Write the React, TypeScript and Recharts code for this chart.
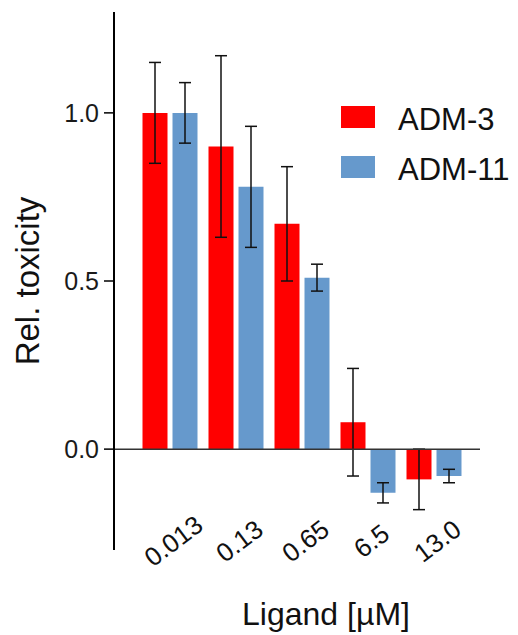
import { Bar, BarChart, ErrorBar, Legend, ReferenceLine, XAxis, YAxis } from 'recharts';

const FONT = '"Liberation Sans", Arial, sans-serif';
const RED = '#ff0000';
const BLUE = '#6699cc';

// Ligand concentrations (µM) and the two series.
const ligand = ['0.013', '0.13', '0.65', '6.5', '13.0'];
const adm3 = [1.0, 0.9, 0.67, 0.08, -0.09];
const adm3Err = [0.15, 0.27, 0.17, 0.16, 0.09];
const adm11 = [1.0, 0.78, 0.51, -0.13, -0.08];
const adm11Err = [0.09, 0.18, 0.04, 0.03, 0.02];
const yTicks = [0, 0.5, 1.0];

const rows = ligand.map((label, i) => ({
  label,
  adm3: adm3[i],
  adm3Err: adm3Err[i],
  adm11: adm11[i],
  adm11Err: adm11Err[i],
}));

// tick labels sit inside the plot, just under the negative bars
function XTick({ x, y, payload }: any) {
  const cx = x + 4;
  const cy = y - 15;
  return (
    <text
      x={cx}
      y={cy}
      transform={`rotate(-37, ${cx}, ${cy})`}
      textAnchor="middle"
      dominantBaseline="central"
      fontSize={26}
      fontFamily={FONT}
      fill="#111"
    >
      {payload.value}
    </text>
  );
}

function LegendBox() {
  const items = [
    { name: 'ADM-3', color: RED },
    { name: 'ADM-11', color: BLUE },
  ];
  return (
    <div style={{ fontFamily: FONT }}>
      {items.map((it) => (
        <div key={it.name} style={{ display: 'flex', alignItems: 'center', height: 22, marginBottom: 28 }}>
          <div style={{ width: 34, height: 22, background: it.color }} />
          <span style={{ marginLeft: 23, fontSize: 31, lineHeight: '22px', color: '#111', position: 'relative', top: 3 }}>
            {it.name}
          </span>
        </div>
      ))}
    </div>
  );
}

export default function App() {
  return (
    <div style={{ position: 'absolute', left: 0, top: 0, background: '#fff' }}>
      <BarChart
        width={518}
        height={635}
        data={rows}
        margin={{ top: 12, right: 38, bottom: 0, left: 0 }}
        barSize={25}
        barGap={5}
      >
        <XAxis
          dataKey="label"
          height={85}
          axisLine={false}
          tickLine={false}
          tickMargin={0}
          padding={{ left: 22.5, right: 13.5 }}
          interval={0}
          tick={<XTick />}
          label={{
            value: 'Ligand [µM]',
            position: 'insideBottom',
            offset: 10,
            dx: 29,
            style: { fontSize: 32, fontFamily: FONT, fill: '#111' },
          }}
        />
        <YAxis
          width={114}
          domain={[-0.3, 1.3]}
          ticks={yTicks}
          allowDataOverflow
          tickFormatter={(v: number) => v.toFixed(1)}
          axisLine={{ stroke: '#000', strokeWidth: 2 }}
          tickLine={{ stroke: '#000', strokeWidth: 1.5 }}
          tickSize={10}
          tickMargin={5}
          tick={{ fontSize: 25, fontFamily: FONT, fill: '#1a1a1a' }}
          label={{
            value: 'Rel. toxicity',
            angle: -90,
            position: 'insideLeft',
            dx: 22,
            style: { fontSize: 33, fontFamily: FONT, fill: '#111', textAnchor: 'middle' },
          }}
        />
        <Legend
          layout="vertical"
          verticalAlign="middle"
          align="center"
          content={<LegendBox />}
          wrapperStyle={{ top: 106, left: 341, width: 175 }}
        />
        <Bar dataKey="adm3" name="ADM-3" fill={RED} isAnimationActive={false}>
          <ErrorBar dataKey="adm3Err" direction="y" width={6} stroke="#111" strokeWidth={1.5} />
        </Bar>
        <Bar dataKey="adm11" name="ADM-11" fill={BLUE} isAnimationActive={false}>
          <ErrorBar dataKey="adm11Err" direction="y" width={6} stroke="#111" strokeWidth={1.5} />
        </Bar>
        <ReferenceLine y={0} stroke="#333" strokeWidth={1.5} />
      </BarChart>
    </div>
  );
}
